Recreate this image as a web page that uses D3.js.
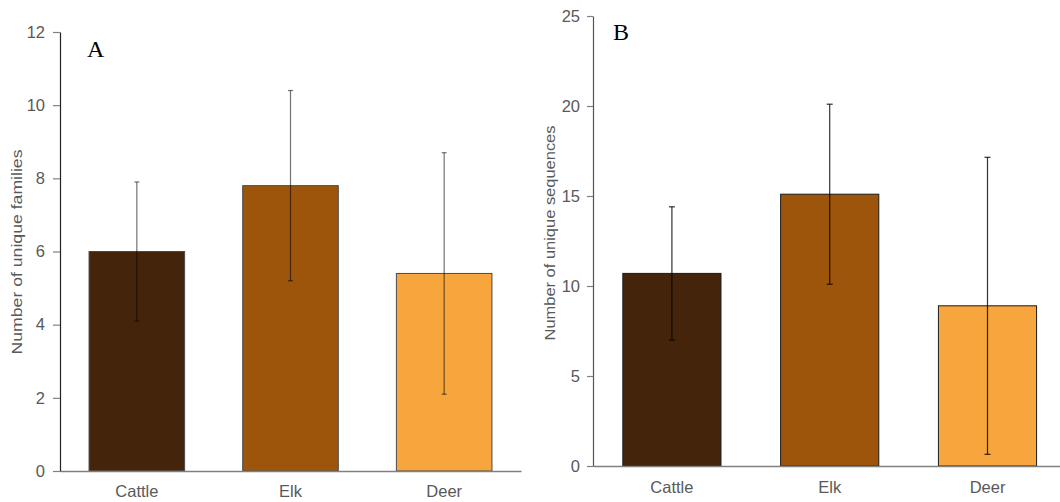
<!DOCTYPE html>
<html>
<head>
<meta charset="utf-8">
<script src="https://cdn.jsdelivr.net/npm/d3@7"></script>
<style>
  body { margin: 0; background: #fff; }
  svg { display: block; }
</style>
</head>
<body>
<svg id="chart" width="1060" height="502"></svg>
<script>
// data
const species = ["Cattle", "Elk", "Deer"];
const familiesMean = [6.0, 7.8, 5.4];
const familiesErr = [1.9, 2.6, 3.3];
const sequencesMean = [10.7, 15.1, 8.9];
const sequencesErr = [3.7, 5.0, 8.25];
const familiesTicks = [0, 2, 4, 6, 8, 10, 12];
const sequencesTicks = [0, 5, 10, 15, 20, 25];
const barColors = ["#44250b", "#9c550b", "#f7a53d"];

var svg = d3.select("#chart");

function drawPanel(opt) {
    var g = svg.append("g");

    var x = d3.scaleBand()
        .domain(species)
        .range([opt.left, opt.right])
        .paddingInner(0.378)
        .paddingOuter(0.189);

    var y = d3.scaleLinear()
        .domain([0, d3.max(opt.ticks)])
        .range([opt.bottom, opt.top]);

    var rows = species.map(function (d, i) {
        return { name: d, mean: opt.mean[i], err: opt.err[i], color: barColors[i] };
    });

    // bars
    g.selectAll("rect.bar")
        .data(rows)
        .enter()
        .append("rect")
        .attr("class", "bar")
        .attr("x", function (d) { return x(d.name); })
        .attr("y", function (d) { return y(d.mean); })
        .attr("width", x.bandwidth())
        .attr("height", function (d) { return y(0) - y(d.mean); })
        .attr("fill", function (d) { return d.color; })
        .attr("stroke", opt.barStroke)
        .attr("stroke-width", 1);

    // error bars
    var eb = g.selectAll("g.err")
        .data(rows)
        .enter()
        .append("g")
        .attr("class", "err")
        .attr("stroke", "#000")
        .attr("stroke-opacity", opt.errOpacity)
        .attr("stroke-width", 1.2);
    eb.append("line")
        .attr("x1", function (d) { return x(d.name) + x.bandwidth() / 2; })
        .attr("x2", function (d) { return x(d.name) + x.bandwidth() / 2; })
        .attr("y1", function (d) { return y(d.mean + d.err); })
        .attr("y2", function (d) { return y(d.mean - d.err); });
    [1, -1].forEach(function (s) {
        eb.append("line")
            .attr("x1", function (d) { return x(d.name) + x.bandwidth() / 2 - opt.cap; })
            .attr("x2", function (d) { return x(d.name) + x.bandwidth() / 2 + opt.cap; })
            .attr("y1", function (d) { return y(d.mean + s * d.err); })
            .attr("y2", function (d) { return y(d.mean + s * d.err); });
    });

    // x axis (baseline + category labels)
    var xAxis = g.append("g")
        .attr("transform", "translate(0," + opt.bottom + ")")
        .call(d3.axisBottom(x).tickSize(0).tickSizeOuter(0).tickPadding(opt.xPad));
    xAxis.select(".domain").attr("stroke", "#808080").attr("stroke-width", 1.3);
    xAxis.selectAll("text")
        .attr("fill", "#595959")
        .style("font-family", "'Liberation Sans', Arial, sans-serif")
        .style("font-size", "16.5px");

    // y axis
    var yAxis = g.append("g")
        .attr("transform", "translate(" + opt.left + ",0)")
        .call(d3.axisLeft(y).tickValues(opt.ticks).tickSize(opt.tick).tickSizeOuter(0).tickPadding(opt.yPad));
    yAxis.select(".domain").attr("stroke", opt.axisColor).attr("stroke-width", 1.2);
    yAxis.selectAll(".tick line").attr("stroke", "#808080").attr("stroke-width", 1.2);
    yAxis.selectAll("text")
        .attr("fill", "#595959")
        .style("font-family", "'Liberation Sans', Arial, sans-serif")
        .style("font-size", "16.5px");

    // y label
    g.append("text")
        .attr("transform", "translate(" + opt.labelX + "," + opt.labelY + ") rotate(-90)")
        .attr("text-anchor", "middle")
        .attr("fill", "#595959")
        .attr("textLength", opt.labelLen)
        .attr("lengthAdjust", "spacingAndGlyphs")
        .style("font-family", "'Liberation Sans', Arial, sans-serif")
        .style("font-size", "14px")
        .text(opt.label);

    // panel letter
    g.append("text")
        .attr("x", opt.letterX)
        .attr("y", opt.letterY)
        .attr("fill", "#000")
        .style("font-family", "'Liberation Serif', 'Times New Roman', serif")
        .style("font-size", "24px")
        .text(opt.letter);
}

drawPanel({
    mean: familiesMean, err: familiesErr, ticks: familiesTicks,
    left: 60, right: 521, top: 32, bottom: 471,
    tick: 7, yPad: 8, xPad: 14.5, cap: 2.5,
    axisColor: "#222", barStroke: "#4a4a4a", errOpacity: 0.55,
    label: "Number of unique families", labelX: 22, labelY: 252, labelLen: 205,
    letter: "A", letterX: 87, letterY: 57
});

drawPanel({
    mean: sequencesMean, err: sequencesErr, ticks: sequencesTicks,
    left: 593, right: 1066.4, top: 16, bottom: 466,
    tick: 6, yPad: 7, xPad: 15.5, cap: 3,
    axisColor: "#555", barStroke: "#1a1a1a", errOpacity: 0.8,
    label: "Number of unique sequences", labelX: 555, labelY: 233, labelLen: 215,
    letter: "B", letterX: 613, letterY: 40
});
</script>
</body>
</html>
